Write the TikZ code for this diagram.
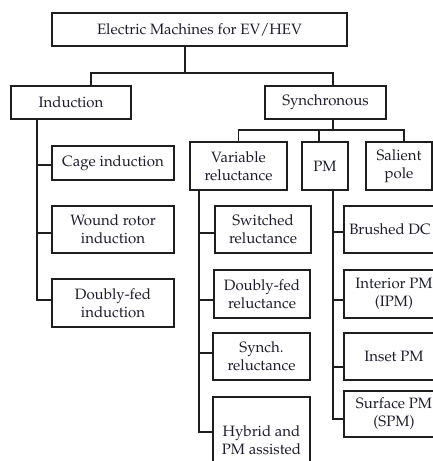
\documentclass[tikz,border=0pt]{standalone}
\usepackage[T1]{fontenc}
\renewcommand{\rmdefault}{ppl}
\definecolor{txt}{RGB}{28,28,45}
\definecolor{ln}{RGB}{30,30,30}
\begin{document}
\begin{tikzpicture}[x=1pt,y=1pt,
  box/.style={draw=ln, line width=1.1pt, rectangle, align=center, inner sep=0pt,
    font=\fontsize{15}{18}\selectfont, text=txt},
  conn/.style={draw=ln, line width=1.1pt}]
\useasboundingbox (0,0) rectangle (433,-461);
\clip (0,0) rectangle (433,-461);
% level 0 and 1
\node[box, minimum width=295, minimum height=33] (top) at (199.5,-29.5) {Electric Machines for EV/HEV};
\node[box, minimum width=120, minimum height=33] (ind) at (71,-102.5) {Induction};
\node[box, minimum width=121, minimum height=33] (syn) at (325.5,-102.5) {Synchronous};
% induction children
\node[box, minimum width=122, minimum height=34] (cage) at (113,-163) {Cage induction};
\node[box, minimum width=122, minimum height=47] (wound) at (113,-229.5) {Wound rotor\\induction};
\node[box, minimum width=122, minimum height=48] (dfi) at (113,-303) {Doubly-fed\\induction};
% synchronous children
\node[box, minimum width=97, minimum height=48] (vr) at (238.5,-166) {Variable\\reluctance};
\node[box, minimum width=46, minimum height=48] (pm) at (325,-166) {PM};
\node[box, minimum width=66, minimum height=48] (sal) at (399,-166) {Salient\\pole};
% variable reluctance children
\node[box, minimum width=96, minimum height=47] (sw) at (263,-229.5) {Switched\\reluctance};
\node[box, minimum width=96, minimum height=48] (dfr) at (262,-294) {Doubly-fed\\reluctance};
\node[box, minimum width=97, minimum height=47] (syr) at (261.5,-356.5) {Synch.\\reluctance};
\node[box, minimum width=97, minimum height=86] (hyb) at (261.5,-440) {Hybrid and\\PM assisted};
% PM children
\node[box, minimum width=92, minimum height=47] (bdc) at (390,-229.5) {Brushed DC};
\node[box, minimum width=100, minimum height=48] (ipm) at (394,-294) {Interior PM\\(IPM)};
\node[box, minimum width=100, minimum height=47] (inset) at (394,-356.5) {Inset PM};
\node[box, minimum width=100, minimum height=46] (spm) at (394,-414) {Surface PM\\(SPM)};
% trunk coordinates
\coordinate (vi) at ([xshift=-34]ind.south);
\coordinate (vv) at ([xshift=-39.5]vr.south);
\coordinate (vp) at ([xshift=8]pm.south);
% connectors level 0 -> 1
\coordinate (ja) at (185,-73);
\draw[conn] (ja |- top.south) -- (ja);
\draw[conn] ([xshift=20]ind.north) |- (ja) -| ([xshift=7.5]syn.north);
% synchronous -> children
\coordinate (jb) at (333,-130);
\draw[conn] ([xshift=7.5]syn.south) -- (jb);
\draw[conn] (vr.north) |- (jb) -| ([xshift=5]sal.north);
\draw[conn] ([xshift=-6]pm.north) -- ([xshift=-6]pm.north |- jb);
% induction tree
\draw[conn] (vi) |- ([yshift=3]dfi.west);
\draw[conn] ([yshift=-2]cage.west) -| (vi);
\draw[conn] ([yshift=-3.5]wound.west) -| (vi);
% variable reluctance tree
\draw[conn] (vv) |- ([yshift=8]hyb.west);
\draw[conn] ([yshift=-3.5]sw.west) -| (vv);
\draw[conn] ([yshift=-6]dfr.west) -| (vv);
\draw[conn] ([yshift=3.5]syr.west) -| (vv);
% PM tree
\draw[conn] (vp) |- ([yshift=-5]spm.west);
\draw[conn] ([yshift=-2.5]bdc.west) -| (vp);
\draw[conn] ([yshift=-6]ipm.west) -| (vp);
\draw[conn] ([yshift=-10.5]inset.west) -| (vp);
\end{tikzpicture}
\end{document}
